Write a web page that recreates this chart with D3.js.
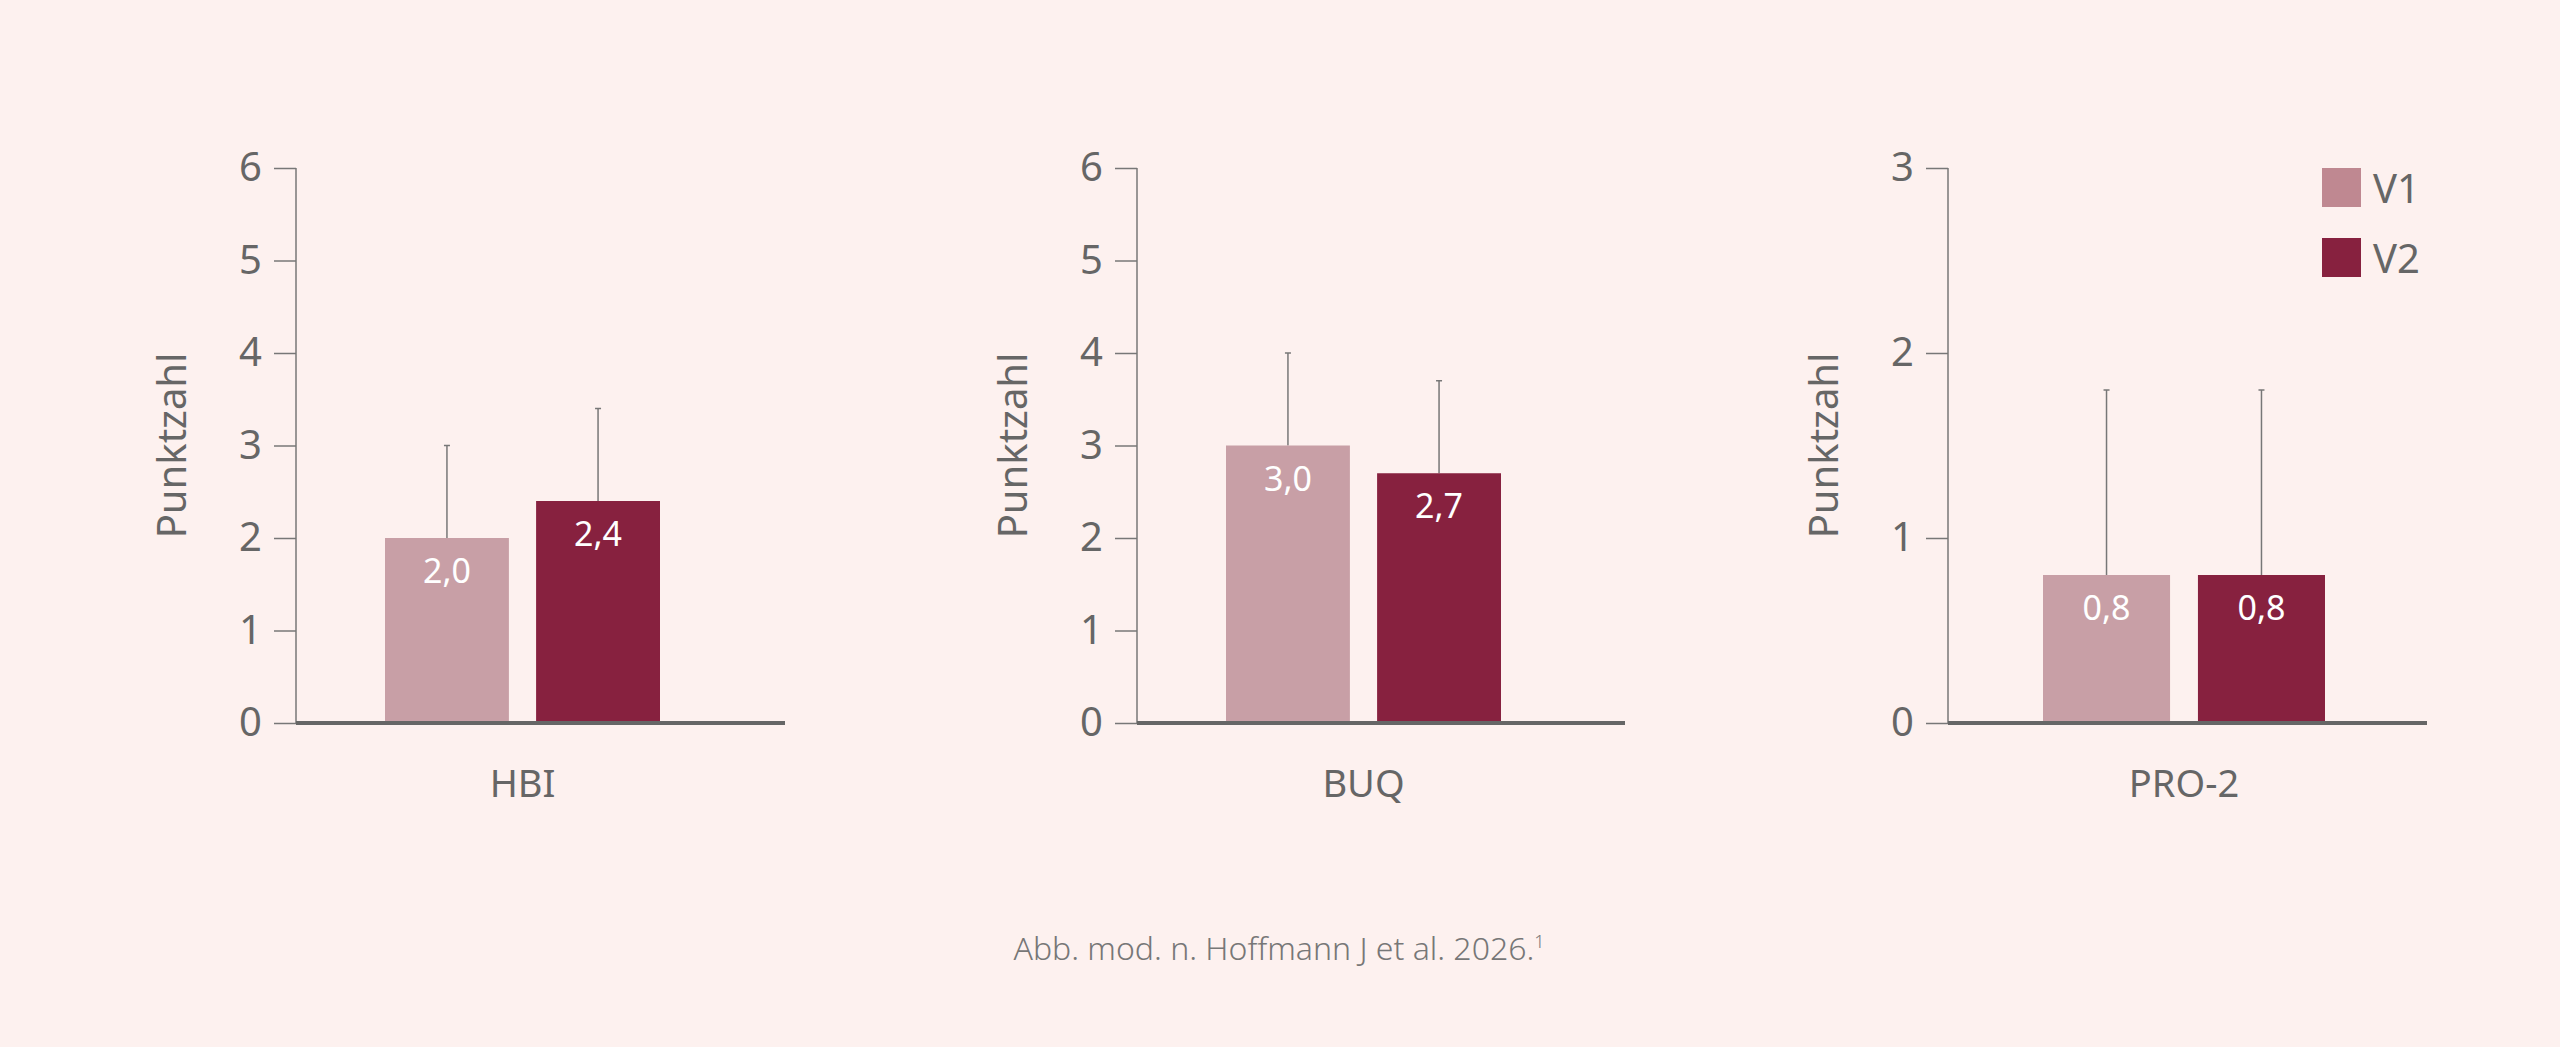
<!DOCTYPE html>
<html><head><meta charset="utf-8">
<script src="https://cdn.jsdelivr.net/npm/d3@7"></script>
<style>body{margin:0;background:#fdf1ef}svg{display:block}</style>
</head><body>
<svg id="c" width="2560" height="1047"></svg>
<script>
const categories = ["HBI","BUQ","PRO-2"];
const series = ["V1","V2"];
const v1Values = [2.0,3.0,0.8];
const v2Values = [2.4,2.7,0.8];
const v1Errors = [3.0,4.0,1.8];
const v2Errors = [3.4,3.7,1.8];
const yMax = [6,6,3];
const valueLabels = [["2,0","2,4"],["3,0","2,7"],["0,8","0,8"]];

const svg = d3.select("#c");
const colors = ["#c89fa6","#87213f"];
const legendColors = ["#bf8891","#87213f"];
const txt = "#666";
const font = "'Noto Sans','Open Sans',sans-serif";
const panels = [
 {ax:296, end:785, b0:385, b1:660},
 {ax:1137, end:1625, b0:1226, b1:1501},
 {ax:1948, end:2427, b0:2043, b1:2325}
];
const yTop=168, yBot=723;
panels.forEach((p,i)=>{
  const g = svg.append("g");
  const y = d3.scaleLinear().domain([0,yMax[i]]).range([yBot,yTop]);
  const x = d3.scaleBand().domain(series).range([p.b0,p.b1]).paddingInner(0.18);
  const ax = g.append("g").attr("transform",`translate(${p.ax},0)`)
    .call(d3.axisLeft(y).ticks(yMax[i]).tickSize(22).tickPadding(12).tickFormat(d3.format("d")));
  ax.select(".domain").attr("stroke","#777").attr("stroke-width",1.5).attr("d",`M0,${yTop}V${yBot}`);
  ax.selectAll(".tick line").attr("stroke","#777").attr("stroke-width",1.5);
  ax.selectAll(".tick text").attr("fill",txt).style("font-family",font).style("font-size","40px");
  const vals=[v1Values[i],v2Values[i]], errs=[v1Errors[i],v2Errors[i]];
  series.forEach((s,j)=>{
    const cx = x(s)+x.bandwidth()/2;
    g.append("line").attr("x1",cx).attr("x2",cx).attr("y1",y(errs[j])).attr("y2",y(vals[j]))
      .attr("stroke","#777").attr("stroke-width",1.5);
    g.append("line").attr("x1",cx-3).attr("x2",cx+3).attr("y1",y(errs[j])).attr("y2",y(errs[j]))
      .attr("stroke","#777").attr("stroke-width",1.5);
    g.append("rect").attr("x",x(s)).attr("width",x.bandwidth()).attr("y",y(vals[j]))
      .attr("height",yBot-y(vals[j])).attr("fill",colors[j]);
    g.append("text").attr("x",cx).attr("y",y(vals[j])+45).attr("text-anchor","middle")
      .attr("fill","#fff").style("font-family",font).style("font-size","34px").text(valueLabels[i][j]);
  });
  g.append("line").attr("x1",p.ax).attr("x2",p.end).attr("y1",yBot).attr("y2",yBot)
    .attr("stroke","#666").attr("stroke-width",4);
  g.append("text").attr("transform",`translate(${p.ax-110},${(yTop+yBot)/2+(i==2?0:0)}) rotate(-90)`)
    .attr("text-anchor","middle").attr("fill",txt).style("font-family",font).style("font-size","40px").text("Punktzahl");
  g.append("text").attr("x",(p.b0+p.b1)/2).attr("y",797).attr("text-anchor","middle")
    .attr("fill",txt).style("font-family",font).style("font-size","38px").text(categories[i]);
});
series.forEach((s,j)=>{
  svg.append("rect").attr("x",2322).attr("y",168+j*70).attr("width",39).attr("height",39).attr("fill",legendColors[j]);
  svg.append("text").attr("x",2373).attr("y",203+j*70).attr("fill",txt).style("font-family",font).style("font-size","40px").text(s);
});
const ft = svg.append("text").attr("x",1279).attr("y",960).attr("text-anchor","middle").attr("fill","#777")
  .style("font-family",font).style("font-size","32px").style("font-weight",300).text("Abb. mod. n. Hoffmann J et al. 2026.");
ft.append("tspan").attr("dy",-12).style("font-size","18px").text("1");
</script>
</body></html>
